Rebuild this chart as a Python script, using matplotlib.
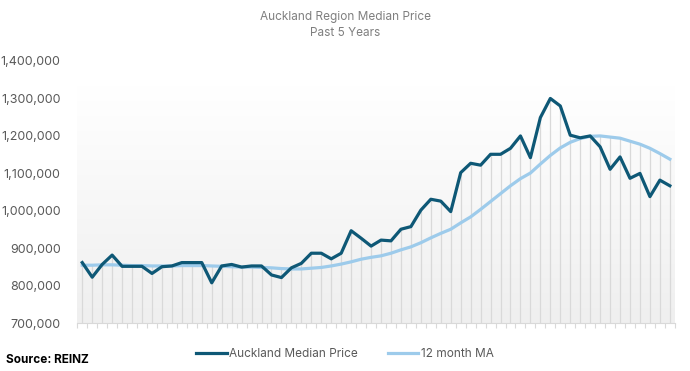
import numpy as np
import matplotlib.pyplot as plt
from matplotlib.ticker import FuncFormatter

# monthly median price, last 5 years (60 months)
median_price = [862000, 823000, 857000, 882000, 852000, 852000, 852000, 833000, 851000, 853000,
                862000, 862000, 862000, 808000, 853000, 857000, 850000, 853000, 853000, 829000,
                822000, 848000, 860000, 887000, 887000, 872000, 887000, 947000, 927000, 906000,
                922000, 920000, 951000, 958000, 1002000, 1031000, 1026000, 998000, 1102000, 1127000,
                1122000, 1151000, 1151000, 1167000, 1200000, 1142000, 1249000, 1300000, 1280000, 1202000,
                1195000, 1200000, 1171000, 1111000, 1144000, 1087000, 1100000, 1038000, 1082000, 1067000]
moving_avg = [855000, 855000, 856000, 856000, 855000, 854000, 854000, 853000, 853000, 853000,
              854000, 854000, 854000, 853000, 852000, 851000, 850000, 850000, 849000, 848000,
              846000, 845000, 845000, 847000, 849000, 853000, 858000, 864000, 871000, 876000,
              880000, 887000, 896000, 904000, 915000, 928000, 940000, 951000, 968000, 984000,
              1004000, 1025000, 1046000, 1067000, 1086000, 1101000, 1125000, 1148000, 1168000, 1183000,
              1193000, 1199000, 1200000, 1197000, 1194000, 1186000, 1178000, 1167000, 1153000, 1138000]
series_names = ["Auckland Median Price", "12 month MA"]

dark = "#0e5876"
light = "#9dcbeb"
grey_text = "#595959"

plt.rcParams['font.family'] = ['Inter', 'DejaVu Sans']

fig = plt.figure(figsize=(6.9, 3.71), dpi=100)
ax = fig.add_axes([0.112, 0.1286, 0.866, 0.707])

x = np.arange(len(median_price))
ymin, ymax = 700000, 1400000

# soft gradient background on the plot area
grad = np.linspace(0, 1, 256).reshape(-1, 1)
ax.imshow(grad, extent=(-0.5, len(x) - 0.5, ymin, 1330000), aspect="auto",
          cmap=plt.matplotlib.colors.LinearSegmentedColormap.from_list("bg", ["#efefef", "#ffffff"]),
          origin="lower", zorder=0)

# drop lines from the top series down to the axis
tops = np.maximum(median_price, moving_avg)
ax.vlines(x, ymin, tops, color="#d9d9d9", linewidth=0.9, zorder=1)

ax.plot(x, moving_avg, color=light, linewidth=2.3, label=series_names[1], zorder=3)
ax.plot(x, median_price, color=dark, linewidth=2.3, label=series_names[0], zorder=4)

ax.set_xlim(-0.5, len(x) - 0.5)
ax.set_ylim(ymin, ymax)
ax.set_yticks(np.arange(ymin, ymax + 1, 100000))
ax.yaxis.set_major_formatter(FuncFormatter(lambda v, p: f"{int(v):,}"))
ax.set_xticks(np.arange(-0.5, len(x), 1.0))
ax.set_xticklabels([])
ax.tick_params(axis="x", length=3.5, color="#d9d9d9", width=0.8)
ax.tick_params(axis="y", length=0, labelsize=9, labelcolor=grey_text, pad=12)
for lab in ax.get_yticklabels():
    lab.set_horizontalalignment("right")

for s in ["top", "right", "left"]:
    ax.spines[s].set_visible(False)
ax.spines["bottom"].set_color("#d9d9d9")

fig.text(0.5, 0.955, "Auckland Region Median Price", ha="center", va="center",
         fontsize=8.5, color="#7f7f7f")
fig.text(0.5, 0.912, "Past 5 Years", ha="center", va="center",
         fontsize=8.5, color="#7f7f7f")

handles, labels = ax.get_legend_handles_labels()
fig.legend(handles[::-1], labels[::-1], loc="center", bbox_to_anchor=(0.5, 0.045), ncol=2,
           frameon=False, fontsize=8.5, labelcolor=grey_text, handlelength=2.6,
           handletextpad=0.2, columnspacing=2.5)

fig.text(0.008, 0.03, "Source: REINZ", ha="left", va="center", fontsize=8.5,
         fontweight="bold", color="black")

fig.savefig("out.png", dpi=100)
